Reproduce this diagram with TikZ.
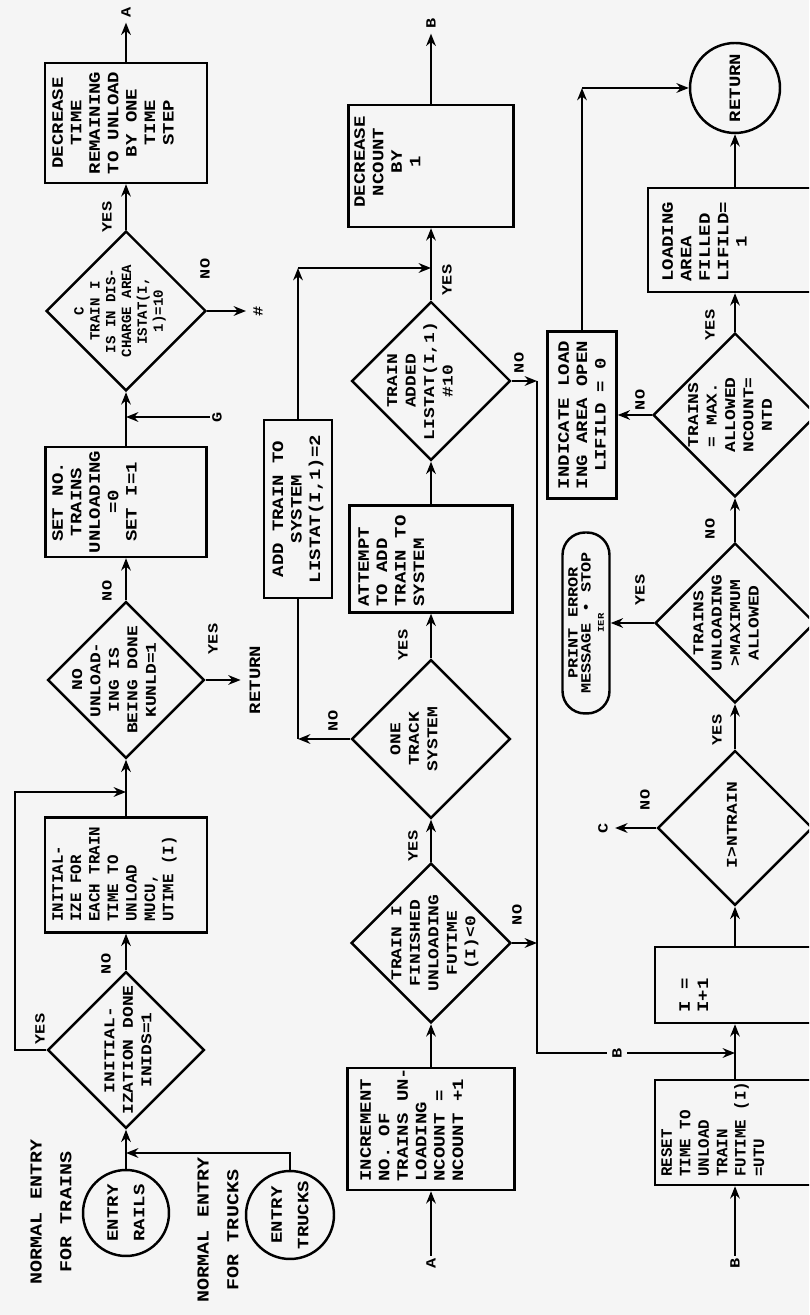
\documentclass[tikz,border=0pt]{standalone}
\usepackage{fontspec}
\usetikzlibrary{shapes.geometric,arrows.meta}
\newfontfamily\chartfam[FakeStretch=1.2]{Liberation Mono}
\newfontfamily\chartnarrow{Liberation Mono}
\newcommand\chf{\chartfam\bfseries\fontsize{9}{10.5}\selectfont}
\newcommand\chd{\chartfam\bfseries\fontsize{8.5}{10.5}\selectfont}
\newcommand\chs{\chartfam\bfseries\fontsize{8}{9}\selectfont}
\newcommand\chh{\chartfam\bfseries\fontsize{9.5}{17}\selectfont}
\newcommand\chc{\chartfam\bfseries\fontsize{9}{15}\selectfont}
\newcommand\chnn{\chartnarrow\bfseries\fontsize{9}{10.5}\selectfont}
\newcommand\chn{\chartnarrow\bfseries\fontsize{8}{9}\selectfont}
\newcommand\cht{\chartfam\bfseries\fontsize{8}{7.5}\selectfont}
\definecolor{paper}{RGB}{245,245,245}
\begin{document}
\begin{tikzpicture}[x=0.02cm,y=0.02cm,
 ln/.style={line width=1.4pt},
 arr/.style={line width=1.4pt,-{Stealth[length=7pt,width=5.5pt]}},
 boxs/.style={draw,line width=1.4pt,rectangle,inner sep=0pt},
 dia/.style={draw,line width=1.4pt,diamond,aspect=1,inner sep=0pt},
 circ/.style={draw,line width=1.4pt,circle,inner sep=0pt,align=center,font=\chc},
 txt/.style={align=center,font=\chf,inner sep=0pt},
 dtxt/.style={align=center,font=\chd,inner sep=0pt},
 txtl/.style={align=left,font=\chf,inner sep=0pt},
 lbl/.style={font=\chs,inner sep=1pt},
 hdr/.style={align=center,font=\chh,inner sep=0pt}]
\begin{scope}[rotate=90,transform shape]
\fill[paper] (0,0) rectangle (1315,-809);
\clip (0,0) rectangle (1315,-809);

% ---------------- Row 1 ----------------
\node[hdr] (nt) at (103,-51) {NORMAL ENTRY\\FOR TRAINS};
\node[hdr] (nk) at (85,-218) {NORMAL ENTRY\\FOR TRUCKS};
\node[circ,minimum size=1.72cm] (rails) at (102,-126) {ENTRY\\RAILS};
\node[circ,minimum size=1.76cm] (trucks) at (100,-290) {ENTRY\\TRUCKS};
\coordinate (j1) at (162,-126);
\coordinate (tk1) at (162,-290);

\node[dia,minimum size=3.14cm] (d1) at (265,-126) {};
\node[dtxt] (d1t) at (265,-128) {INITIAL-\\IZATION DONE\\INIDS=1};

\node[boxs,minimum width=2.3cm,minimum height=3.24cm] (b1) at (440,-126) {};
\node[align=left,font=\chnn,inner sep=0pt,anchor=north west] (b1t) at (393,-52)
 {INITIAL-\\IZE FOR\\EACH TRAIN\\TIME TO\\UNLOAD\\MUCU,\\UTIME (I)};

\node[dia,minimum size=3.14cm] (d2) at (635,-126) {};
\node[dtxt] (d2t) at (635,-114) {NO\\UNLOAD-\\ING IS\\BEING DONE\\KUNLD=1};
\node[font=\chf,inner sep=2pt] (ret1) at (635,-255) {RETURN};

\node[boxs,minimum width=2.2cm,minimum height=3.22cm] (b2) at (813,-126) {};
\node[txt,anchor=north] (b2t) at (813,-52) {SET NO.\\TRAINS\\UNLOADING\\=0\\SET I=1};

\coordinate (jG) at (898,-126);
\node[lbl] (g) at (898,-217) {G};

\node[dia,minimum size=3.2cm] (d3) at (1004,-126) {};
\node[align=center,font=\chn,inner sep=0pt] (d3t) at (1004,-120) {C\\TRAIN I\\IS IN DIS-\\CHARGE AREA\\ISTAT(I,\\1)=10};
\node[lbl] (hash) at (1004,-258) {\#};

\node[boxs,minimum width=2.4cm,minimum height=3.24cm] (b3) at (1192,-126) {};
\node[txt,anchor=north] (b3t) at (1192,-52) {DECREASE\\TIME\\REMAINING\\TO UNLOAD\\BY ONE\\TIME\\STEP};
\node[lbl] (aout) at (1303,-126) {A};

\coordinate (y1a) at (265,-15);
\coordinate (y1b) at (523,-15);
\coordinate (j2) at (523,-126);

\draw[arr] (rails) -- (d1);
\draw[arr] (trucks.east) -- (tk1) -- (j1);
\draw[arr] (d1) -- (b1);
\draw[arr] (d1.north) -- (y1a) -- (y1b) -- (j2);
\draw[arr] (b1) -- (d2);
\draw[arr,shorten >=3pt] (d2) -- (ret1);
\draw[arr] (d2) -- (b2);
\draw[arr] (b2) -- (d3);
\draw[arr] (g) -- (jG);
\draw[arr,shorten >=3pt] (d3) -- (hash);
\draw[arr] (d3) -- (b3);
\draw[arr,shorten >=2pt] (b3) -- (aout);

\node[lbl] (lY1) at (286,-40) {YES};
\node[lbl] (lN1) at (351,-106) {NO};
\node[lbl] (lY2) at (676,-213) {YES};
\node[lbl] (lN2) at (724,-107) {NO};
\node[lbl] (lN3) at (1046,-205) {NO};
\node[lbl] (lY3) at (1098,-107) {YES};

% ---------------- Row 2 ----------------
\node[lbl] (ain) at (52,-431) {A};
\node[boxs,minimum width=2.44cm,minimum height=3.34cm] (b4) at (186,-431) {};
\node[txtl,anchor=north west] (b4t) at (133,-360) {INCREMENT\\NO. OF\\TRAINS UN-\\LOADING\\NCOUNT =\\NCOUNT +1};

\node[dia,minimum size=3.2cm] (d4) at (372,-431) {};
\node[dtxt] (d4t) at (372,-435) {TRAIN I\\FINISHED\\UNLOADING\\FUTIME\\(I)<0};
\coordinate (k4) at (372,-537);

\node[dia,minimum size=3.18cm] (d5) at (576,-431) {};
\node[dtxt] (d5t) at (576,-414) {ONE\\TRACK\\SYSTEM};
\coordinate (c5) at (576,-298);

\node[boxs,align=center,font=\chf,minimum width=3.56cm,minimum height=1.36cm] (b5) at (806,-298) {ADD TRAIN TO\\SYSTEM\\LISTAT(I,1)=2};
\coordinate (c6) at (1047,-298);
\coordinate (j6) at (1047,-431);

\node[boxs,minimum width=2.14cm,minimum height=3.26cm] (b6) at (756,-431) {};
\node[txtl,anchor=north west] (b6t) at (708,-358) {ATTEMPT\\TO ADD\\TRAIN TO\\SYSTEM};

\node[dia,minimum size=3.18cm] (d6) at (934,-431) {};
\node[dtxt] (d6t) at (934,-420) {TRAIN\\ADDED\\LISTAT(I,1)\\\#10};
\coordinate (k6) at (934,-537);
\coordinate (kB) at (262,-537);
\coordinate (jB) at (262,-735);

\node[boxs,minimum width=2.44cm,minimum height=3.3cm] (b7) at (1149,-431) {};
\node[txt,anchor=north] (b7t) at (1153,-354) {DECREASE\\NCOUNT\\BY\\1};
\node[lbl] (bout) at (1292,-431) {B};

\draw[arr] (ain) -- (b4);
\draw[arr] (b4) -- (d4);
\draw[arr] (d4.south) -- (k4);
\draw[arr] (d4) -- (d5);
\draw[arr] (d5.north) -- (c5);
\draw[ln] (c5) -- (b5.west);
\draw[arr] (b5.east) -- (c6);
\draw[arr] (c6) -- (j6);
\draw[arr] (d5) -- (b6);
\draw[arr] (b6) -- (d6);
\draw[arr] (d6.south) -- (k6);
\draw[arr] (k6) -- (kB) -- (jB);
\node[lbl,fill=paper,inner sep=3pt] (bmid) at (262,-617) {B};
\draw[arr] (d6) -- (b7);
\draw[arr,shorten >=2pt] (b7) -- (bout);

\node[lbl] (lN4) at (400,-517) {NO};
\node[lbl] (lY4) at (469,-413) {YES};
\node[lbl] (lN5) at (594,-333) {NO};
\node[lbl] (lY5) at (670,-403) {YES};
\node[lbl] (lN6) at (952,-519) {NO};
\node[lbl] (lY6) at (1035,-447) {YES};

% ---------------- Row 3 ----------------
\node[lbl] (bin) at (52,-735) {B};
\node[boxs,minimum width=2.1cm,minimum height=3.2cm] (b8) at (182.5,-735) {};
\node[align=left,font=\chnn,inner sep=0pt,anchor=north west] (b8t) at (138,-661) {RESET\\TIME TO\\UNLOAD\\TRAIN\\FUTIME (I)\\=UTU};

\node[boxs,minimum width=1.52cm,minimum height=3.2cm] (b9) at (330,-735) {};
\node[txtl,anchor=north west] (b9t) at (302,-679) {I =\\I+1};

\node[dia,minimum size=3.1cm] (d7) at (487,-735) {};
\node[dtxt] (d7t) at (490,-732) {I>NTRAIN};
\node[lbl] (cC) at (487,-603) {C};

\node[dia,minimum size=3.2cm] (d8) at (692,-735) {};
\node[dtxt] (d8t) at (692,-726) {TRAINS\\UNLOADING\\>MAXIMUM\\ALLOWED};
\node[draw,ln,rounded corners=0.45cm,minimum width=3.62cm,minimum height=0.94cm,align=center,font=\cht,inner sep=0pt] (t1) at (692,-586) {PRINT ERROR\\MESSAGE • STOP\\{\fontsize{5}{5}\selectfont IER}};

\node[dia,minimum size=3.28cm] (d9) at (900,-735) {};
\node[dtxt] (d9t) at (900,-730) {TRAINS\\= MAX.\\ALLOWED\\NCOUNT=\\NTD};
\node[boxs,align=center,font=\chf,minimum width=3.34cm,minimum height=1.38cm] (b10) at (900,-582) {INDICATE LOAD\\ING AREA OPEN\\LIFILD = 0};
\coordinate (c10) at (1227,-582);

\node[boxs,minimum width=2.08cm,minimum height=3.48cm] (b11) at (1075,-735) {};
\node[txtl,anchor=north west] (b11t) at (1033,-662) {LOADING\\AREA\\FILLED\\LIFILD=\\\ \ \ 1};

\node[circ,minimum size=1.8cm] (ret2) at (1227,-735) {RETURN};

\draw[arr] (bin) -- (b8);
\draw[arr] (b8) -- (b9);
\draw[arr] (b9) -- (d7);
\draw[arr,shorten >=3pt] (d7) -- (cC);
\draw[arr] (d7) -- (d8);
\draw[arr] (d8) -- (t1);
\draw[arr] (d8) -- (d9);
\draw[arr] (d9) -- (b10);
\draw[arr] (b10.east) -- (c10);
\draw[arr] (c10) -- (ret2);
\draw[arr] (d9) -- (b11);
\draw[arr] (b11) -- (ret2);

\node[lbl] (lN7) at (515,-645) {NO};
\node[lbl] (lY7) at (585,-717) {YES};
\node[lbl] (lY8) at (725,-640) {YES};
\node[lbl] (lN8) at (786,-710) {NO};
\node[lbl] (lN9) at (915,-640) {NO};
\node[lbl] (lY9) at (990,-710) {YES};
\end{scope}
\end{tikzpicture}
\end{document}
